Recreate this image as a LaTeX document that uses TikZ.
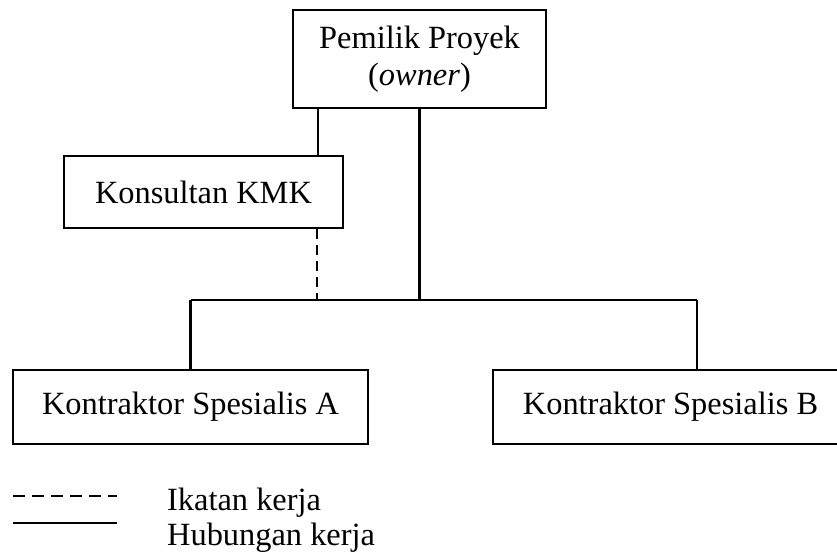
\documentclass[tikz,border=0pt]{standalone}
\usepackage{fontspec}
\setmainfont{Liberation Serif}
\begin{document}
\begin{tikzpicture}[x=1pt,y=-1pt,
  box/.style={draw, line width=2.2pt, inner sep=0pt, align=center,
    font=\fontsize{32.4}{37}\selectfont},
  link/.style={line width=2.2pt},
  dashlink/.style={line width=2.2pt, dash pattern=on 10pt off 6pt},
  legdash/.style={line width=2.2pt, dash pattern=on 12pt off 7pt},
  legtext/.style={anchor=base west, inner sep=0pt, font=\fontsize{32.4}{37}\selectfont}]
\path[use as bounding box, clip] (0,0) rectangle (837,554);

\node[box, minimum width=253pt, minimum height=98pt] (owner) at (419.5,59)
  {Pemilik Proyek\\(\textit{owner})};
\node[box, minimum width=279pt, minimum height=72pt] (kmk) at (203.5,192)
  {Konsultan KMK};
\node[box, minimum width=355pt, minimum height=74pt] (A) at (190.5,407)
  {Kontraktor Spesialis A};
\node[box, minimum width=355pt, minimum height=74pt] (B) at (670.5,407)
  {Kontraktor Spesialis B};

\coordinate (c1) at (318,0);
\coordinate (c2) at (317,0);
\coordinate (busR) at (697,300);

% owner to KMK
\draw[link] (owner.south -| c1) -- (kmk.north -| c1);
% owner to bus
\draw[link] (owner.south) -- (owner.south |- busR);
% bus
\draw[link] (A.north |- busR) -- (busR);
\draw[link] (A.north |- busR) -- (A.north);
\draw[link] (busR) -- (B.north -| busR);
% KMK dashed to bus
\draw[dashlink] (kmk.south -| c2) -- (busR -| c2);

% legend
\coordinate (l1a) at (13,496);
\coordinate (l1b) at (117,496);
\coordinate (l2a) at (13,523);
\coordinate (l2b) at (117,523);
\draw[legdash] (l1a) -- (l1b);
\draw[link] (l2a) -- (l2b);
\node[legtext] (t1) at (167,510) {Ikatan kerja};
\node[legtext] (t2) at (167,545) {Hubungan kerja};
\end{tikzpicture}
\end{document}
